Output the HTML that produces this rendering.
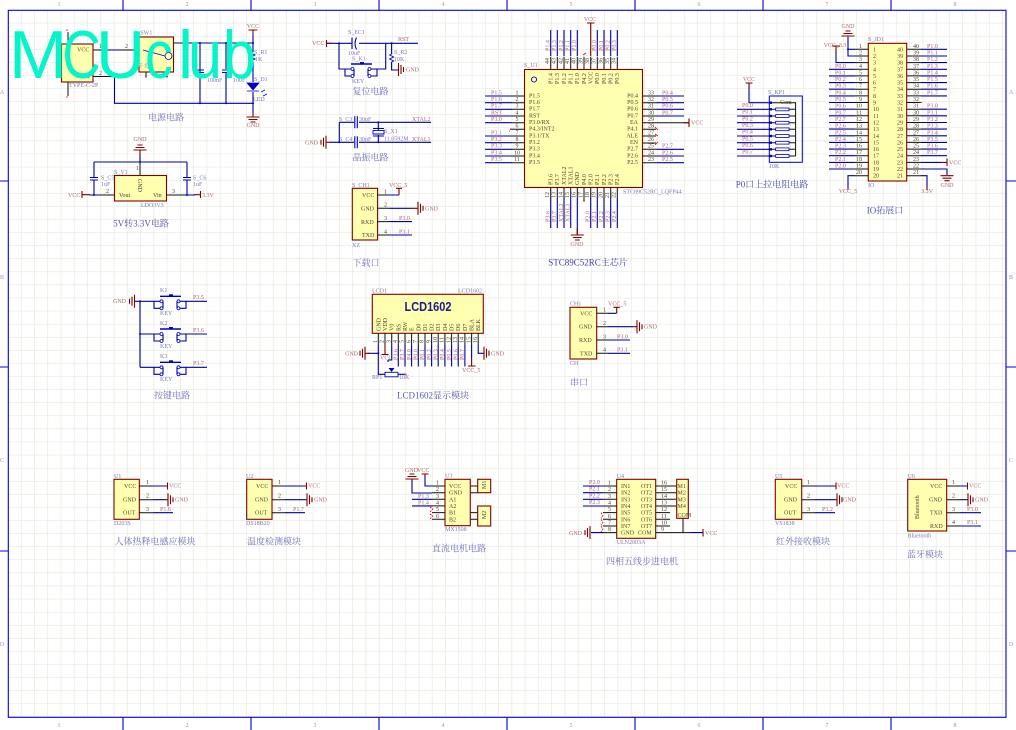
<!DOCTYPE html>
<html><head><meta charset="utf-8"><style>
html,body{margin:0;padding:0;background:#fff}
svg{display:block}
text{font-family:"Liberation Serif","Noto Serif CJK SC",serif;font-size:6px}
.w{stroke:#0000a0;stroke-width:1.1;fill:none}
.p{stroke:#111;stroke-width:1;fill:none}
.m{stroke:#800000;stroke-width:1.1;fill:none}
.b{stroke:#800000;stroke-width:1.1;fill:#ffffb0}
.n{fill:#a86a6a}
.t{fill:#554433}
.d{fill:#7a7ab8}
.h{fill:#7070b8;font-size:9px}
.k{fill:#9090e0}
.x{stroke:#e00000;stroke-width:.8;fill:none}
.j{fill:#0000a0}
.c{text-anchor:middle}
.e{text-anchor:end}
.l{font-family:"Liberation Sans",sans-serif;font-size:68px;fill:#03f5c8}
</style></head><body>
<svg width="1016" height="730" viewBox="0 0 1016 730" xmlns="http://www.w3.org/2000/svg">
<defs>
<pattern id="g" x="8.3" y="10.3" width="13.26" height="13.09" patternUnits="userSpaceOnUse"><path d="M13.26 0V13.09M0 13.09H13.26" stroke="#e6e6dc" stroke-width="1.3" fill="none"/></pattern>
<g id="gr"><path class="m" d="M0-6.500V6.500M2.500-4.500V4.500M5-2.500V2.500"/></g>
<g id="gl"><path class="m" d="M0-6.500V6.500M-2.500-4.500V4.500M-5-2.500V2.500"/></g>
<g id="gd"><path class="m" d="M-6.500 0H6.500M-4.500 2.500H4.500M-2.500 5H2.500"/></g>
<g id="key"><path class="w" d="M-6 0V7H0M0 0H-6M20 0H26V7H20"/><circle cx="1.500" cy="0" r="1.500" fill="#fff" stroke="#0000c0" stroke-width=".8"/><circle cx="1.500" cy="7" r="1.500" fill="#fff" stroke="#0000c0" stroke-width=".8"/><circle cx="18.500" cy="0" r="1.500" fill="#fff" stroke="#0000c0" stroke-width=".8"/><circle cx="18.500" cy="7" r="1.500" fill="#fff" stroke="#0000c0" stroke-width=".8"/><path d="M0-5H21" stroke="#0000c0" stroke-width="1.400"/><path d="M9-7H13V-5H9Z" fill="#0000c0"/><path class="w" d="M3 0V7M17 0V7"/></g>
<g id="cap"><path d="M-4-1H4M-4 1.500H4" stroke="#0000c0" stroke-width="1.100"/></g>
<g id="caph"><path d="M-1-6V6M1.500-6V6" stroke="#0000c0" stroke-width="1.100"/></g>
</defs>
<rect width="1016" height="730" fill="#fff"/>
<rect x="8.3" y="10.3" width="997.7" height="707" fill="url(#g)"/>
<rect x="8.3" y="10.3" width="997.7" height="707" fill="none" stroke="#0000e0" stroke-width="1.100"/>
<path stroke="#0000e0" stroke-width="1.100" fill="none" d="M123 0V10M251 0V10M379 0V10M507 0V10M635 0V10M763 0V10M891 0V10M123 717V730M251 717V730M379 717V730M507 717V730M635 717V730M763 717V730M891 717V730M0 181H8M0 367H8M0 551H8M1006 181H1016M1006 367H1016M1006 551H1016"/>
<g class="k c">
<text x="59" y="6">1</text><text x="187" y="6">2</text><text x="315" y="6">3</text><text x="443" y="6">4</text><text x="571" y="6">5</text><text x="699" y="6">6</text><text x="827" y="6">7</text><text x="955" y="6">8</text>
<text x="59" y="727">1</text><text x="187" y="727">2</text><text x="315" y="727">3</text><text x="443" y="727">4</text><text x="571" y="727">5</text><text x="699" y="727">6</text><text x="827" y="727">7</text><text x="955" y="727">8</text>
<text x="2" y="94">A</text><text x="2" y="279">B</text><text x="2" y="462">C</text><text x="2" y="646">D</text>
<text x="1011" y="94">A</text><text x="1011" y="279">B</text><text x="1011" y="462">C</text><text x="1011" y="646">D</text>
</g>

<!-- Power -->
<path class="p" d="M93 50H107M120 50H139M93 76.500H114.500M173.500 43H187M68 44V32M68 82V96M146 72V77M167 72V77M187 50V56"/>
<path class="w" d="M107 50H120M187 43H253M114.500 76.500V103.300H253M200 43V103.300M226 43V69M226 73V103.300M253 36V52M253 62V82M253 92V113"/>
<path class="m" d="M253 30V36M248.500 30H257.500M253 113V117"/>
<use href="#gd" x="253" y="117"/>
<use href="#cap" x="226" y="71"/><use href="#cap" x="200" y="71"/>
<rect x="61.500" y="44" width="31.500" height="38" class="b"/>
<rect x="139" y="37" width="34.500" height="35" class="b"/>
<path d="M143 50L165 56" stroke="#0000c0" stroke-width=".9"/><circle cx="168.500" cy="56" r="3.500" fill="none" stroke="#0000c0" stroke-width=".8"/>
<path d="M253 52l-2 1 4 2-4 2 4 2-2 1" fill="none" stroke="#0000c0" stroke-width=".9"/>
<path d="M247 83H259L253 90ZM247 91H259" fill="#0000c0" stroke="#0000c0" stroke-width=".7"/>
<path d="M261 92l4-2M263 96l4-2" stroke="#0000c0" stroke-width=".8"/>
<path class="x" d="M66 30h2M66 97h2M145 77h2M166 77h2M186 56h2"/>
<circle cx="200" cy="43" r="1" class="j"/><circle cx="226" cy="43" r="1" class="j"/><circle cx="253" cy="43" r="1" class="j"/><circle cx="200" cy="103.300" r="1" class="j"/><circle cx="226" cy="103.300" r="1" class="j"/><circle cx="253" cy="103.300" r="1" class="j"/>
<g class="t"><text x="77" y="51.500">VCC</text><text x="77" y="78">GND</text><text x="99" y="48">1</text><text x="99" y="75">2</text><text x="125" y="48">2</text></g>
<g class="d"><text x="69" y="87">TYPE-C-2P</text><text x="134" y="34.500">S_SW1</text><text x="254" y="54">S_R1</text><text x="255" y="61">1K</text><text x="254" y="81">S_D1</text><text x="253" y="101">LED</text><text x="207" y="82">100nF</text><text x="233" y="82">100F</text><text x="137" y="68">开关</text></g>
<g class="n c"><text x="253" y="28">VCC</text><text x="253" y="127">GND</text></g>
<text class="h c" x="166" y="120.500">电源电路</text>

<!-- 5V to 3.3V -->
<use href="#gd" x="140" y="150" transform="rotate(180 140 150)"/>
<path class="m" d="M140 150V155"/>
<path class="w" d="M140 155V162M94 162H187M94 162V177M94 180V195M187 162V177M187 180V195M89 195H114.500M166.500 195H195"/>
<path class="p" d="M140 162V175.500M99 195H114.500M166.500 195H184"/>
<path class="m" d="M82 191V198M82 194.700H90M194 194.700H200M200.500 191V198"/>
<use href="#cap" x="94" y="178.500"/><use href="#cap" x="187" y="178.500"/>
<circle cx="140" cy="162" r="1" class="j"/><circle cx="94" cy="195" r="1" class="j"/><circle cx="187" cy="195" r="1" class="j"/>
<rect x="114.500" y="175.500" width="52" height="25.500" class="b"/>
<g class="t"><text x="119" y="197">Vout</text><text x="153" y="197">Vin</text><text transform="rotate(90 138 179)" x="138" y="179">GND</text><text x="106" y="193">2</text><text x="172" y="193">3</text><text x="136" y="170">1</text></g>
<g class="d"><text x="114" y="174">S_V1</text><text x="101" y="179.500">S_C5</text><text x="101" y="186">1uF</text><text x="193" y="179.500">S_C6</text><text x="193" y="186">1uF</text><text x="141" y="207">LDO3V3</text></g>
<g class="n"><text x="68" y="197">VCC</text><text x="202" y="197">3.3V</text><text class="c" x="140" y="141">GND</text></g>
<text class="h c" x="141" y="226.500" style="fill:#5a5aa8">5V转3.3V电路</text>

<!-- Reset -->
<path class="w" d="M327 43.300H352M359 43.300H418M339 43.300V69H345M385.700 43.300V69H377M391.600 43.300V54M391.600 62V70H398"/>
<path class="m" d="M326.500 40V47M326.500 43.300H332"/>
<path d="M352 37.500V49M356.500 37.500c-2 4-2 8 0 12" fill="none" stroke="#0000c0" stroke-width="1.100"/>
<path d="M391.600 54l-2 1 4 2-4 2 4 2-2 1" fill="none" stroke="#0000c0" stroke-width=".9"/>
<use href="#key" x="351" y="69"/>
<use href="#gr" x="398.500" y="69.500"/>
<circle cx="339" cy="43.300" r="1" class="j"/><circle cx="391.600" cy="43.300" r="1" class="j"/>
<g class="d"><text x="348" y="34">S_EC1</text><text x="348" y="55">10uF</text><text x="352" y="60.500">S_K1</text><text x="352" y="83">KEY</text><text x="394" y="54">S_R2</text><text x="394" y="61">10K</text></g>
<g class="n"><text x="312" y="45">VCC</text><text x="398" y="41">RST</text><text x="406" y="71.500">GND</text></g>
<text class="h c" x="370.500" y="94.500">复位电路</text>

<!-- Crystal -->
<path class="w" d="M339.300 122.300H354M359 122.300H431M330 142.300H354M359 142.300H431M339.300 122.300V142.300M378.300 122.300V130M378.300 135V142.300"/>
<path class="m" d="M326 142.300H331"/>
<use href="#gl" x="326" y="142.300"/>
<use href="#caph" x="355.800" y="122.300"/><use href="#caph" x="355.800" y="142.300"/>
<path d="M373 130.600H384V134H373ZM373 128.500H384M373 136H384" fill="none" stroke="#0000c0" stroke-width=".9"/>
<circle cx="339.300" cy="142.300" r="1" class="j"/><circle cx="378.300" cy="142.300" r="1" class="j"/><circle cx="378.300" cy="122.300" r="1" class="j"/>
<g class="d"><text x="339" y="121">S_C3</text><text x="339" y="141">S_C4</text><text x="359" y="121">30pF</text><text x="359" y="141">30pF</text><text x="384" y="133">S_X1</text><text x="384" y="140.500">11.0592M</text></g>
<g class="n"><text x="305" y="144.500">GND</text><text x="412" y="121">XTAL2</text><text x="412" y="141">XTAL1</text></g>
<text class="h c" x="370.500" y="160.500">晶振电路</text>

<!-- S_CH1 -->
<rect x="352.300" y="188.300" width="25.300" height="51.700" class="b"/>
<path class="p" d="M377.600 195H389M377.600 208.300H389M377.600 221.600H389M377.600 235H389"/>
<path class="w" d="M389 195H399M389 208.300H411M389 221.600H412M389 235H412"/>
<path class="m" d="M399 195V188.500M396 188.300H402M411 208.300H418"/>
<use href="#gr" x="418" y="208.300"/>
<g class="t"><text x="362" y="197">VCC</text><text x="361" y="210.500">GND</text><text x="361" y="223.800">RXD</text><text x="362" y="237">TXD</text><text x="384" y="193.500">1</text><text x="384" y="206.500">2</text><text x="384" y="220">3</text><text x="384" y="233.500">4</text></g>
<g class="d"><text x="352" y="187">S_CH1</text><text x="352" y="247">XZ</text></g>
<g class="n"><text x="389" y="187">VCC_5</text><text x="425" y="210.500">GND</text><text x="399" y="220">P3.0</text><text x="399" y="233.500">P3.1</text></g>
<text class="h c" x="366" y="266">下载口</text>

<!-- MCU -->
<path class="w" d="M485 96H512M485 102.700H512M485 109.300H512M485 116H512M485 122.700H512M485 136H512M485 142.700H512M485 149.300H512M485 156H512M485 162.700H512M657 96H684M657 102.700H684M657 109.300H684M657 116H684M657 149.300H684M657 156H684M657 162.700H684M550.700 30V56M557.300 30V56M564 30V56M570.700 30V56M577.300 30V56M597.300 30V56M604 30V56M610.700 30V56M617.300 30V56M550.700 198V228M557.300 198V228M564 198V228M570.700 198V228M577.300 198V235M590.700 198V228M597.300 198V228M604 198V228M610.700 198V228M617.300 198V228"/>
<path class="p" d="M512 96H524M512 102.700H524M512 109.300H524M512 116H524M512 122.700H524M510 129.300H524M512 136H524M512 142.700H524M512 149.300H524M512 156H524M512 162.700H524M642 96H657M642 102.700H657M642 109.300H657M642 116H657M642 122.700H689M642 129.300H656M642 136H656M642 143H656M642 149.300H657M642 156H657M642 162.700H657M550.700 56.700V70M557.300 56.700V70M564 56.700V70M570.700 56.700V70M577.300 56.700V70M584 56.700V70M590.700 56.700V70M597.300 56.700V70M604 56.700V70M610.700 56.700V70M617.300 56.700V70M550.700 187V198M557.300 187V198M564 187V198M570.700 187V198M577.300 187V198M584 187V201M590.700 187V198M597.300 187V198M604 187V198M610.700 187V198M617.300 187V198"/>
<path class="m" d="M590.700 56V23M587 23H594.500M689 118.500V127M689 122.700H684"/>
<path class="m" d="M577.300 228V235"/><use href="#gd" x="577.300" y="235"/>
<path class="x" d="M510 129.300h2M509 131h1M583 55l3-2M583 201h2M655 127l3 3M655 134l3 2M655 145l3-3"/>
<rect x="524.500" y="69.500" width="118" height="118" class="b"/>
<circle cx="534" cy="79.500" r="2.600" fill="none" stroke="#0000e0" stroke-width=".9"/>
<g class="t">
<text x="529" y="97.500">P1.5</text><text x="529" y="104">P1.6</text><text x="529" y="110.700">P1.7</text><text x="529" y="117.500">RST</text><text x="529" y="124">P3.0/RX</text><text x="529" y="130.700">P4.3/INT2</text><text x="529" y="137.500">P3.1/TX</text><text x="529" y="144">P3.2</text><text x="529" y="150.700">P3.3</text><text x="529" y="157.500">P3.4</text><text x="529" y="164">P3.5</text>
<g class="e"><text x="638" y="97.500">P0.4</text><text x="638" y="104">P0.5</text><text x="638" y="110.700">P0.6</text><text x="638" y="117.500">P0.7</text><text x="638" y="124">EA</text><text x="638" y="130.700">P4.1</text><text x="638" y="137.500">ALE</text><text x="638" y="144">EN</text><text x="638" y="150.700">P2.7</text><text x="638" y="157.500">P2.6</text><text x="638" y="164">P2.5</text></g>
<g class="c"><text x="517" y="94.500">1</text><text x="517" y="101">2</text><text x="517" y="107.500">3</text><text x="517" y="114.500">4</text><text x="517" y="121">5</text><text x="517" y="127.500">6</text><text x="517" y="134.500">7</text><text x="517" y="141">8</text><text x="517" y="147.500">9</text><text x="517" y="154.500">10</text><text x="517" y="161">11</text>
<text x="651" y="94.500">33</text><text x="651" y="101">32</text><text x="651" y="107.500">31</text><text x="651" y="114.500">30</text><text x="651" y="121">29</text><text x="651" y="127.500">28</text><text x="651" y="134.500">27</text><text x="651" y="141">26</text><text x="651" y="147.500">25</text><text x="651" y="154.500">24</text><text x="651" y="161">23</text></g>
<text transform="rotate(-90 552.500 84)" x="552.500" y="84">P1.4</text><text transform="rotate(-90 559 84)" x="559" y="84">P1.3</text><text transform="rotate(-90 565.800 84)" x="565.800" y="84">P1.2</text><text transform="rotate(-90 572.500 84)" x="572.500" y="84">P1.1</text><text transform="rotate(-90 579 84)" x="579" y="84">P1.0</text><text transform="rotate(-90 585.800 84)" x="585.800" y="84">P4.2</text><text transform="rotate(-90 592.500 84)" x="592.500" y="84">VCC</text><text transform="rotate(-90 599 84)" x="599" y="84">P0.0</text><text transform="rotate(-90 605.800 84)" x="605.800" y="84">P0.1</text><text transform="rotate(-90 612.500 84)" x="612.500" y="84">P0.2</text><text transform="rotate(-90 619 84)" x="619" y="84">P0.3</text>
<text transform="rotate(-90 552.500 185)" x="552.500" y="185">P3.6</text><text transform="rotate(-90 559 185)" x="559" y="185">P3.7</text><text transform="rotate(-90 565.800 185)" x="565.800" y="185">XTAL2</text><text transform="rotate(-90 572.500 185)" x="572.500" y="185">XTAL1</text><text transform="rotate(-90 579 185)" x="579" y="185">GND</text><text transform="rotate(-90 585.800 185)" x="585.800" y="185">P4.0</text><text transform="rotate(-90 592.500 185)" x="592.500" y="185">P2.0</text><text transform="rotate(-90 599 185)" x="599" y="185">P2.1</text><text transform="rotate(-90 605.800 185)" x="605.800" y="185">P2.2</text><text transform="rotate(-90 612.500 185)" x="612.500" y="185">P2.3</text><text transform="rotate(-90 619 185)" x="619" y="185">P2.4</text>
<text transform="rotate(-90 549 64)" x="549" y="64">44</text><text transform="rotate(-90 555.600 64)" x="555.600" y="64">43</text><text transform="rotate(-90 562.300 64)" x="562.300" y="64">42</text><text transform="rotate(-90 569 64)" x="569" y="64">41</text><text transform="rotate(-90 575.600 64)" x="575.600" y="64">40</text><text transform="rotate(-90 582.300 64)" x="582.300" y="64">39</text><text transform="rotate(-90 589 64)" x="589" y="64">38</text><text transform="rotate(-90 595.600 64)" x="595.600" y="64">37</text><text transform="rotate(-90 602.300 64)" x="602.300" y="64">36</text><text transform="rotate(-90 609 64)" x="609" y="64">35</text><text transform="rotate(-90 615.600 64)" x="615.600" y="64">34</text>
<text transform="rotate(-90 549 198)" x="549" y="198">12</text><text transform="rotate(-90 555.600 198)" x="555.600" y="198">13</text><text transform="rotate(-90 562.300 198)" x="562.300" y="198">14</text><text transform="rotate(-90 569 198)" x="569" y="198">15</text><text transform="rotate(-90 575.600 198)" x="575.600" y="198">16</text><text transform="rotate(-90 582.300 198)" x="582.300" y="198">17</text><text transform="rotate(-90 589 198)" x="589" y="198">18</text><text transform="rotate(-90 595.600 198)" x="595.600" y="198">19</text><text transform="rotate(-90 602.300 198)" x="602.300" y="198">20</text><text transform="rotate(-90 609 198)" x="609" y="198">21</text><text transform="rotate(-90 615.600 198)" x="615.600" y="198">22</text>
</g>
<g class="n">
<text x="491" y="94.500">P1.5</text><text x="491" y="101">P1.6</text><text x="491" y="107.500">P1.7</text><text x="491" y="114.500">RST</text><text x="491" y="121">P3.0</text><text x="491" y="134.500">P3.1</text><text x="491" y="141">P3.2</text><text x="491" y="147.500">P3.3</text><text x="491" y="154.500">P3.4</text><text x="491" y="161">P3.5</text>
<text x="662" y="94.500">P0.4</text><text x="662" y="101">P0.5</text><text x="662" y="107.500">P0.6</text><text x="662" y="114.500">P0.7</text><text x="691" y="124.500">VCC</text><text x="662" y="147.500">P2.7</text><text x="662" y="154.500">P2.6</text><text x="662" y="161">P2.5</text>
<text class="c" x="590" y="21">VCC</text><text class="c" x="577" y="246">GND</text>
<text transform="rotate(-90 549.500 51)" x="549.500" y="51">P1.4</text><text transform="rotate(-90 556 51)" x="556" y="51">P1.3</text><text transform="rotate(-90 562.800 51)" x="562.800" y="51">P1.2</text><text transform="rotate(-90 569.500 51)" x="569.500" y="51">P1.1</text><text transform="rotate(-90 576 51)" x="576" y="51">P1.0</text><text transform="rotate(-90 596 51)" x="596" y="51">P0.0</text><text transform="rotate(-90 602.800 51)" x="602.800" y="51">P0.1</text><text transform="rotate(-90 609.500 51)" x="609.500" y="51">P0.2</text><text transform="rotate(-90 616 51)" x="616" y="51">P0.3</text>
<text transform="rotate(-90 549.500 222)" x="549.500" y="222">P3.6</text><text transform="rotate(-90 556 222)" x="556" y="222">P3.7</text><text transform="rotate(-90 562.800 222)" x="562.800" y="222">XTAL2</text><text transform="rotate(-90 569.500 222)" x="569.500" y="222">XTAL1</text><text transform="rotate(-90 589.500 222)" x="589.500" y="222">P2.0</text><text transform="rotate(-90 596 222)" x="596" y="222">P2.1</text><text transform="rotate(-90 602.800 222)" x="602.800" y="222">P2.2</text><text transform="rotate(-90 609.500 222)" x="609.500" y="222">P2.3</text><text transform="rotate(-90 616 222)" x="616" y="222">P2.4</text>
</g>
<g class="d"><text x="524" y="67">S_U1</text><text x="623" y="193.500">STC89C52RC_LQFP44</text></g>
<text class="h c" x="588" y="265.500" style="fill:#3c3ca4">STC89C52RC主芯片</text>

<!-- KP1 -->
<rect x="769.300" y="96" width="33" height="66.300" fill="none" stroke="#0000c0" stroke-width="1"/>
<path class="w" d="M749 83V102.700H770M737 109.300H770M737 116H770M737 122.700H770M737 129.300H770M737 136H770M737 142.700H770M737 149.300H770M737 156H770"/>
<path class="m" d="M749 83V88M745.500 83H752.500"/>
<path class="p" d="M771 102.700H795.600V156M771 109.300H776M789 109.300H795.600M771 116H776M789 116H795.600M771 122.700H776M789 122.700H795.600M771 129.300H776M789 129.300H795.600M771 136H776M789 136H795.600M771 142.700H776M789 142.700H795.600M771 149.300H776M789 149.300H795.600M771 156H776M789 156H795.600"/>
<g fill="#fff" stroke="#0000c0" stroke-width=".8"><rect x="775.700" y="108" width="13.300" height="2.800"/><rect x="775.700" y="114.600" width="13.300" height="2.800"/><rect x="775.700" y="121.300" width="13.300" height="2.800"/><rect x="775.700" y="127.900" width="13.300" height="2.800"/><rect x="775.700" y="134.600" width="13.300" height="2.800"/><rect x="775.700" y="141.300" width="13.300" height="2.800"/><rect x="775.700" y="147.900" width="13.300" height="2.800"/><rect x="775.700" y="154.600" width="13.300" height="2.800"/></g>
<g fill="#0000c0"><rect x="769" y="101.500" width="3" height="2.400"/><rect x="769" y="108.100" width="3" height="2.400"/><rect x="769" y="114.800" width="3" height="2.400"/><rect x="769" y="121.500" width="3" height="2.400"/><rect x="769" y="128.100" width="3" height="2.400"/><rect x="769" y="134.800" width="3" height="2.400"/><rect x="769" y="141.500" width="3" height="2.400"/><rect x="769" y="148.100" width="3" height="2.400"/><rect x="769" y="154.800" width="3" height="2.400"/></g>
<g class="n"><text class="c" x="749" y="81">VCC</text><text x="742" y="107">P0.0</text><text x="742" y="113.700">P0.1</text><text x="742" y="120.300">P0.2</text><text x="742" y="127">P0.3</text><text x="742" y="133.600">P0.4</text><text x="742" y="140.300">P0.5</text><text x="742" y="147">P0.6</text><text x="742" y="153.600">P0.7</text></g>
<g class="d"><text x="768" y="94">S_KP1</text><text x="769" y="168">10K</text></g>
<text class="t" x="780" y="104">Com</text>
<text class="h c" x="772" y="187.500" style="fill:#5050b0">P0口上拉电阻电路</text>

<!-- JD1 -->
<rect x="868.300" y="43.300" width="38.400" height="137.700" class="b"/>
<path class="p" d="M855 49.300H868M855 56H868M855 62.600H868M855 69.300H868M855 75.900H868M855 82.600H868M855 89.200H868M855 95.900H868M855 102.500H868M855 109.200H868M855 115.800H868M855 122.500H868M855 129.100H868M855 135.800H868M855 142.400H868M855 149.100H868M855 155.700H868M855 162.400H868M855 169H868M855 175.700H868M907 49.300H921M907 56H921M907 62.600H921M907 69.300H921M907 75.900H921M907 82.600H921M907 89.200H921M907 95.900H921M907 102.500H921M907 109.200H921M907 115.800H921M907 122.500H921M907 129.100H921M907 135.800H921M907 142.400H921M907 149.100H921M907 155.700H921M907 162.400H921M907 169H921M907 175.700H921"/>
<path class="w" d="M848 38V56H855M848 49.300H855M836 50V62.600H855M829 69.300H855M829 75.900H855M829 82.600H855M829 89.200H855M829 95.900H855M829 102.500H855M829 109.200H855M829 115.800H855M829 122.500H855M829 129.100H855M829 135.800H855M829 142.400H855M829 149.100H855M829 155.700H855M829 162.400H855M829 169H855M848 187V175.700H855M921 49.300H947M921 56H947M921 62.600H947M921 69.300H947M921 75.900H947M921 82.600H947M921 89.200H947M921 95.900H947M921 109.200H947M921 115.800H947M921 122.500H947M921 129.100H947M921 135.800H947M921 142.400H947M921 149.100H947M921 155.700H947M921 162.400H941M921 169H947V175M921 175.700H927V187"/>
<path class="m" d="M848 187V190M836 46V50M832 46H840M941 162.400H947M947 158.500V166M927 187V190"/>
<use href="#gd" x="848" y="36" transform="rotate(180 848 36)"/><path class="m" d="M848 36V38"/>
<use href="#gd" x="947" y="175.700"/>
<circle cx="848" cy="49.300" r="1" class="j"/><path class="x" d="M920 102.500h2"/>
<g class="t">
<text x="873" y="51.300">1</text><text x="873" y="58">2</text><text x="873" y="64.600">3</text><text x="873" y="71.300">4</text><text x="873" y="77.900">5</text><text x="873" y="84.600">6</text><text x="873" y="91.200">7</text><text x="873" y="97.900">8</text><text x="873" y="104.500">9</text><text x="873" y="111.200">10</text><text x="873" y="117.800">11</text><text x="873" y="124.500">12</text><text x="873" y="131.100">13</text><text x="873" y="137.800">14</text><text x="873" y="144.400">15</text><text x="873" y="151.100">16</text><text x="873" y="157.700">17</text><text x="873" y="164.400">18</text><text x="873" y="171">19</text><text x="873" y="177.700">20</text>
<text x="897" y="51.300">40</text><text x="897" y="58">39</text><text x="897" y="64.600">38</text><text x="897" y="71.300">37</text><text x="897" y="77.900">36</text><text x="897" y="84.600">35</text><text x="897" y="91.200">34</text><text x="897" y="97.900">33</text><text x="897" y="104.500">32</text><text x="897" y="111.200">31</text><text x="897" y="117.800">30</text><text x="897" y="124.500">29</text><text x="897" y="131.100">28</text><text x="897" y="137.800">27</text><text x="897" y="144.400">26</text><text x="897" y="151.100">25</text><text x="897" y="157.700">24</text><text x="897" y="164.400">23</text><text x="897" y="171">22</text><text x="897" y="177.700">21</text>
<g class="e"><text x="862" y="47.800">1</text><text x="862" y="54.500">2</text><text x="862" y="61.100">3</text><text x="862" y="67.800">4</text><text x="862" y="74.400">5</text><text x="862" y="81.100">6</text><text x="862" y="87.700">7</text><text x="862" y="94.400">8</text><text x="862" y="101">9</text><text x="862" y="107.700">10</text><text x="862" y="114.300">11</text><text x="862" y="121">12</text><text x="862" y="127.600">13</text><text x="862" y="134.300">14</text><text x="862" y="140.900">15</text><text x="862" y="147.600">16</text><text x="862" y="154.200">17</text><text x="862" y="160.900">18</text><text x="862" y="167.500">19</text><text x="862" y="174.200">20</text></g>
<text x="913" y="47.800">40</text><text x="913" y="54.500">39</text><text x="913" y="61.100">38</text><text x="913" y="67.800">37</text><text x="913" y="74.400">36</text><text x="913" y="81.100">35</text><text x="913" y="87.700">34</text><text x="913" y="94.400">33</text><text x="913" y="101">32</text><text x="913" y="107.700">31</text><text x="913" y="114.300">30</text><text x="913" y="121">29</text><text x="913" y="127.600">28</text><text x="913" y="134.300">27</text><text x="913" y="140.900">26</text><text x="913" y="147.600">25</text><text x="913" y="154.200">24</text><text x="913" y="160.900">23</text><text x="913" y="167.500">22</text><text x="913" y="174.200">21</text>
</g>
<g class="n">
<text x="835" y="67.800">P0.0</text><text x="835" y="74.400">P0.1</text><text x="835" y="81.100">P0.2</text><text x="835" y="87.700">P0.3</text><text x="835" y="94.400">P0.4</text><text x="835" y="101">P0.5</text><text x="835" y="107.700">P0.6</text><text x="835" y="114.300">P0.7</text><text x="835" y="121">P2.7</text><text x="835" y="127.600">P2.6</text><text x="835" y="134.300">P2.5</text><text x="835" y="140.900">P2.4</text><text x="835" y="147.600">P2.3</text><text x="835" y="154.200">P2.2</text><text x="835" y="160.900">P2.1</text><text x="835" y="167.500">P2.0</text>
<text x="927" y="47.800">P1.0</text><text x="927" y="54.500">P1.1</text><text x="927" y="61.100">P1.2</text><text x="927" y="67.800">P1.3</text><text x="927" y="74.400">P1.4</text><text x="927" y="81.100">P1.5</text><text x="927" y="87.700">P1.6</text><text x="927" y="94.400">P1.7</text><text x="927" y="107.700">P3.0</text><text x="927" y="114.300">P3.1</text><text x="927" y="121">P3.2</text><text x="927" y="127.600">P3.3</text><text x="927" y="134.300">P3.4</text><text x="927" y="140.900">P3.5</text><text x="927" y="147.600">P3.6</text><text x="927" y="154.200">P3.7</text>
<text x="949" y="164.500">VCC</text><text class="c" x="947" y="187">GND</text><text class="c" x="848" y="28">GND</text><text class="c" x="835" y="47">VCC_3.3</text><text class="c" x="848" y="193">VCC_5</text><text class="c" x="927" y="193">3.3V</text>
</g>
<g class="d"><text x="868" y="41">S_JD1</text><text x="868" y="187">IO</text></g>
<text class="h c" x="885" y="213.500" style="fill:#5050b0">IO拓展口</text>

<!-- Keys -->
<path class="w" d="M134 301.300H154M140 301.300V367.300M140 334H154M140 367.300H154M186 301.300H207M186 334H207M186 367.300H207"/>
<use href="#gl" x="134.500" y="301.300"/>
<use href="#key" x="160" y="301.300"/><use href="#key" x="160" y="334"/><use href="#key" x="160" y="367.300"/>
<circle cx="140" cy="301.300" r="1" class="j"/><circle cx="140" cy="334" r="1" class="j"/>
<g class="d"><text x="160" y="292">K1</text><text x="160" y="325">K2</text><text x="160" y="358">K3</text><text x="160" y="315">KEY</text><text x="160" y="348">KEY</text><text x="160" y="381">KEY</text></g>
<g class="n"><text x="113" y="303">GND</text><text x="193" y="299">P3.5</text><text x="193" y="332">P3.6</text><text x="193" y="365">P3.7</text></g>
<text class="h c" x="172" y="398.500">按键电路</text>

<!-- LCD -->
<rect x="372.300" y="294.300" width="111" height="39" class="b"/>
<text class="c" x="428" y="311" textLength="47" lengthAdjust="spacingAndGlyphs" style="font-family:'Liberation Sans',sans-serif;font-weight:bold;font-size:12.500px;fill:#1a1a90">LCD1602</text>
<path class="p" d="M378.300 333V345M385 333V345M391.700 333V345M398.300 333V345M405 333V345M411.600 333V345M418.300 333V345M425 333V345M431.600 333V345M438.200 333V345M444.900 333V345M451.600 333V345M458.200 333V345M464.900 333V345M471.600 333V345M478.200 333V345"/>
<path class="w" d="M378.300 345V374.300H385M368 353.300H378.300M391.700 345V360H388M388 360V362M398.300 345V366.500M405 345V366.500M411.600 345V366.500M418.300 345V366.500M425 345V366.500M431.600 345V366.500M438.200 345V366.500M444.900 345V366.500M451.600 345V366.500M458.200 345V366.500M464.900 345V366.500M471.600 345V358M478.200 345V353.300H484"/>
<path class="m" d="M385 345V354M381.500 354.500H388.500M471.600 358V366M468 366H475.500M365 353.300H369"/>
<use href="#gl" x="365" y="353.300"/><use href="#gr" x="484" y="353.300"/>
<rect x="385" y="372.300" width="13" height="4.500" fill="#fff" stroke="#0000c0" stroke-width=".9"/>
<path d="M388.500 368H394.500L391.500 372Z" fill="#0000c0"/><path class="w" d="M398 374.300H405"/>
<circle cx="378.300" cy="353.300" r="1" class="j"/>
<path class="x" d="M404 374h2v2"/>
<g class="t">
<text transform="rotate(-90 380.300 331)" x="380.300" y="331">GND</text><text transform="rotate(-90 387 331)" x="387" y="331">VDD</text><text transform="rotate(-90 393.700 331)" x="393.700" y="331">V0</text><text transform="rotate(-90 400.300 331)" x="400.300" y="331">RS</text><text transform="rotate(-90 407 331)" x="407" y="331">RW</text><text transform="rotate(-90 413.600 331)" x="413.600" y="331">E</text><text transform="rotate(-90 420.300 331)" x="420.300" y="331">D0</text><text transform="rotate(-90 427 331)" x="427" y="331">D1</text><text transform="rotate(-90 433.600 331)" x="433.600" y="331">D2</text><text transform="rotate(-90 440.200 331)" x="440.200" y="331">D3</text><text transform="rotate(-90 446.900 331)" x="446.900" y="331">D4</text><text transform="rotate(-90 453.600 331)" x="453.600" y="331">D5</text><text transform="rotate(-90 460.200 331)" x="460.200" y="331">D6</text><text transform="rotate(-90 466.900 331)" x="466.900" y="331">D7</text><text transform="rotate(-90 473.600 331)" x="473.600" y="331">BLA</text><text transform="rotate(-90 480.200 331)" x="480.200" y="331">BLK</text>
<text transform="rotate(-90 377 343)" x="377" y="343">1</text><text transform="rotate(-90 383.700 343)" x="383.700" y="343">2</text><text transform="rotate(-90 390.400 343)" x="390.400" y="343">3</text><text transform="rotate(-90 397 343)" x="397" y="343">4</text><text transform="rotate(-90 403.700 343)" x="403.700" y="343">5</text><text transform="rotate(-90 410.300 343)" x="410.300" y="343">6</text><text transform="rotate(-90 417 343)" x="417" y="343">7</text><text transform="rotate(-90 423.700 343)" x="423.700" y="343">8</text><text transform="rotate(-90 430.300 343)" x="430.300" y="343">9</text><text transform="rotate(-90 437 343)" x="437" y="343">10</text><text transform="rotate(-90 443.600 343)" x="443.600" y="343">11</text><text transform="rotate(-90 450.300 343)" x="450.300" y="343">12</text><text transform="rotate(-90 457 343)" x="457" y="343">13</text><text transform="rotate(-90 463.600 343)" x="463.600" y="343">14</text><text transform="rotate(-90 470.300 343)" x="470.300" y="343">15</text><text transform="rotate(-90 477 343)" x="477" y="343">16</text>
</g>
<g class="n">
<text transform="rotate(-90 397.500 360)" x="397.500" y="360">P3.6</text><text transform="rotate(-90 404 360)" x="404" y="360">P3.7</text><text transform="rotate(-90 410.800 360)" x="410.800" y="360">P4.0</text><text transform="rotate(-90 417.500 360)" x="417.500" y="360">P0.0</text><text transform="rotate(-90 424 360)" x="424" y="360">P0.1</text><text transform="rotate(-90 430.800 360)" x="430.800" y="360">P0.2</text><text transform="rotate(-90 437.400 360)" x="437.400" y="360">P0.3</text><text transform="rotate(-90 444 360)" x="444" y="360">P0.4</text><text transform="rotate(-90 450.800 360)" x="450.800" y="360">P0.5</text><text transform="rotate(-90 457.400 360)" x="457.400" y="360">P0.6</text><text transform="rotate(-90 464 360)" x="464" y="360">P0.7</text>
<text x="345" y="355.500">GND</text><text x="380" y="359.500">VCC</text><text x="491" y="355.500">GND</text><text x="462" y="372">VCC_5</text>
</g>
<g class="d"><text x="372" y="292.500">LCD1</text><text x="458" y="292.500">LCD1602</text><text x="372" y="379">RP1</text><text x="399" y="379">10K</text></g>
<text class="h c" x="433" y="398.500" style="fill:#5a5aaa">LCD1602显示模块</text>

<!-- CH1 -->
<rect x="570" y="307.300" width="26.700" height="51.700" class="b"/>
<path class="p" d="M596.700 313.300H608M596.700 326.700H608M596.700 340H608M596.700 353.300H608"/>
<path class="w" d="M608 313.300H616.700M608 326.700H633M608 340H630M608 353.300H630"/>
<path class="m" d="M616.700 313.300V307.500M613.500 307.300H620M633 326.700H637"/><use href="#gr" x="637" y="326.700"/>
<g class="t"><text x="580" y="315.300">VCC</text><text x="579" y="328.700">GND</text><text x="579" y="342">RXD</text><text x="580" y="355.300">TXD</text><text x="603" y="311.500">1</text><text x="603" y="325">2</text><text x="603" y="338.500">3</text><text x="603" y="351.500">4</text></g>
<g class="d"><text x="570" y="305.500">CH1</text><text x="570" y="365">CH</text></g>
<g class="n"><text x="608" y="305.500">VCC_5</text><text x="644" y="328.700">GND</text><text x="617" y="338.500">P3.0</text><text x="617" y="351.500">P3.1</text></g>
<text class="h c" x="579" y="385.500">串口</text>

<!-- U1 U2 U5 U6 -->
<rect x="114" y="479.300" width="25.300" height="40" class="b"/>
<rect x="246.700" y="479.300" width="25.300" height="40" class="b"/>
<rect x="775.300" y="479.300" width="26.400" height="40" class="b"/>
<rect x="907.700" y="479.300" width="39" height="51.700" class="b"/>
<path class="p" d="M139.300 486H153M139.300 499.700H153M139.300 512.700H153M272 486H285M272 499.700H285M272 512.700H285M801.700 486H815M801.700 499.700H815M801.700 512.700H815M946.700 486H960M946.700 499.700H960M946.700 512.700H960M946.700 526H960"/>
<path class="w" d="M153 486H165M153 499.700H166M153 512.700H173M285 486H304M285 499.700H305M285 512.700H305M815 486H834M815 499.700H835M815 512.700H835M960 486H966M960 499.700H966M960 512.700H981M960 526H981"/>
<path class="m" d="M165 486H167.300M167.500 482.500V489.500M166 499.700H168M304 486H306M306.500 482.500V489.500M305 499.700H307M834 486H835.600M836 482.500V489.500M835 499.700H837M966 486H967M967.500 482.500V489.500M966 499.700H968"/>
<use href="#gr" x="168" y="499.700"/><use href="#gr" x="307" y="499.700"/><use href="#gr" x="837" y="499.700"/><use href="#gr" x="968" y="499.700"/>
<g class="t">
<text x="124" y="488">VCC</text><text x="123" y="501.700">GND</text><text x="123" y="514.700">OUT</text><text x="146" y="484">1</text><text x="146" y="497.500">2</text><text x="146" y="511">3</text>
<text x="256" y="488">VCC</text><text x="255" y="501.700">GND</text><text x="255" y="514.700">OUT</text><text x="278" y="484">1</text><text x="278" y="497.500">2</text><text x="278" y="511">3</text>
<text x="785" y="488">VCC</text><text x="784" y="501.700">GND</text><text x="784" y="514.700">OUT</text><text x="807" y="484">1</text><text x="807" y="497.500">2</text><text x="807" y="511">3</text>
<text x="930" y="488">VCC</text><text x="929" y="501.700">GND</text><text x="930" y="514.700">TXD</text><text x="930" y="528">RXD</text><text x="952" y="484">1</text><text x="952" y="497.500">2</text><text x="952" y="511">3</text><text x="952" y="524">4</text>
<text transform="rotate(-90 919 519)" x="919" y="519">Bluetooth</text>
</g>
<g class="n">
<text x="169" y="487.500">VCC</text><text x="175" y="501.500">GND</text><text x="160" y="511">P1.6</text>
<text x="308" y="487.500">VCC</text><text x="314" y="501.500">GND</text><text x="293" y="511">P1.7</text>
<text x="837" y="487.500">VCC</text><text x="843" y="501.500">GND</text><text x="822" y="511">P3.2</text>
<text x="969" y="487.500">VCC</text><text x="975" y="501.500">GND</text><text x="967" y="511">P3.0</text><text x="967" y="524">P3.1</text>
</g>
<g class="d"><text x="114" y="478">U1</text><text x="114" y="525">D203S</text><text x="246" y="478">U2</text><text x="246" y="525">DS18B20</text><text x="775" y="478">U5</text><text x="775" y="525">VS1838</text><text x="907.500" y="478">U6</text><text x="907.500" y="537.500">Bluetooth</text></g>
<text class="h c" x="155" y="544.500">人体热释电感应模块</text><text class="h c" x="274" y="544.500">温度检测模块</text><text class="h c" x="803" y="544.500">红外接收模块</text><text class="h c" x="925" y="557.500">蓝牙模块</text>

<!-- U3 -->
<path class="p" d="M432 486H445M432 492.700H445M432 499.300H445M432 505.900H445M432 512.600H445M432 519.300H445M470.300 486H477.700M470.300 492.700H477.700M470.300 512.600H477.700M470.300 519.300H477.700"/>
<path class="w" d="M425 475V486H432M412 480V493H432M412 499.300H432M412 505.900H432"/>
<path class="m" d="M425 474.500V477M421.500 474H428.500M412 479V481"/>
<use href="#gd" x="412" y="479" transform="rotate(180 412 479)"/>
<path class="x" d="M430 512l3-3-3-2M430 519l3-3-3-2" stroke-dasharray="2 1"/>
<rect x="445" y="479.300" width="25.300" height="46.400" class="b"/>
<rect x="477.700" y="479.300" width="13" height="13.400" class="b"/>
<rect x="477.700" y="506" width="13" height="20" class="b"/>
<g class="t"><text x="449" y="488">VCC</text><text x="449" y="494.700">GND</text><text x="449" y="501.300">A1</text><text x="449" y="507.900">A2</text><text x="449" y="514.600">B1</text><text x="449" y="521.300">B2</text>
<text x="436" y="484.500">1</text><text x="436" y="491">2</text><text x="436" y="497.800">3</text><text x="436" y="504.400">4</text><text x="436" y="511">5</text><text x="436" y="517.800">6</text>
<text transform="rotate(-90 486 489)" x="486" y="489">M1</text><text transform="rotate(-90 486 519)" x="486" y="519">M2</text></g>
<g class="n"><text x="405" y="472">GND</text><text x="417" y="472">VCC</text><text x="418" y="497.800">P1.3</text><text x="418" y="504.400">P1.4</text></g>
<g class="d"><text x="445" y="477.500">U3</text><text x="445" y="531">MX1508</text></g>
<text class="h c" x="459" y="551.500">直流电机电路</text>

<!-- U4 -->
<path class="p" d="M603 486H617M603 492.700H617M603 499.300H617M603 506H617M603 512.600H617M603 519.300H617M603 526H617M603 532.600H617M655.700 486H676.700M655.700 492.700H676.700M655.700 499.300H676.700M655.700 506H676.700M655.700 512.600H670M655.700 519.300H670M655.700 526H670M655.700 532.600H690M683 518.300V532.600"/>
<path class="w" d="M583 486H603M583 492.700H603M583 499.300H603M583 506H603M591 532.600H603M690 532.600H703"/>
<path class="m" d="M703 529V536.500"/>
<use href="#gl" x="590" y="532.600"/>
<path class="x" d="M601 512.600l2 3-2 3M601 519.300l2 3-2 3M601 526l2 3-2 3" stroke-dasharray="2 1"/>
<rect x="616.700" y="479.300" width="39" height="59" class="b"/>
<rect x="676.700" y="479.300" width="11.600" height="39" class="b"/>
<g class="t"><text x="621" y="488">IN1</text><text x="621" y="494.700">IN2</text><text x="621" y="501.300">IN3</text><text x="621" y="508">IN4</text><text x="621" y="514.600">IN5</text><text x="621" y="521.300">IN6</text><text x="621" y="528">IN7</text><text x="621" y="534.600">GND</text>
<text x="641" y="488">OT1</text><text x="641" y="494.700">OT2</text><text x="641" y="501.300">OT3</text><text x="641" y="508">OT4</text><text x="641" y="514.600">OT5</text><text x="641" y="521.300">OT6</text><text x="641" y="528">OT7</text><text x="638" y="534.600">COM</text>
<text x="677.500" y="488">M1</text><text x="677.500" y="494.700">M2</text><text x="677.500" y="501.300">M3</text><text x="677.500" y="508">M4</text><text x="677.500" y="517">COM</text>
<text x="608" y="484.500">1</text><text x="608" y="491">2</text><text x="608" y="497.800">3</text><text x="608" y="504.400">4</text><text x="608" y="511">5</text><text x="608" y="517.800">6</text><text x="608" y="524.400">7</text><text x="608" y="531">8</text>
<text x="661" y="484.500">16</text><text x="661" y="491">15</text><text x="661" y="497.800">14</text><text x="661" y="504.400">13</text><text x="661" y="511">12</text><text x="661" y="517.800">11</text><text x="661" y="524.400">10</text><text x="661" y="531">9</text></g>
<g class="n"><text x="589" y="484">P2.0</text><text x="589" y="490.700">P2.1</text><text x="589" y="497.300">P2.2</text><text x="589" y="504">P2.3</text><text x="569" y="534.800">GND</text><text x="705" y="534.800">VCC</text></g>
<g class="d"><text x="616.700" y="478">U4</text><text x="616.700" y="544">ULN2003A</text></g>
<text class="h c" x="642" y="564.500">四相五线步进电机</text>

<!-- Logo -->
<text class="l" transform="translate(9 78) scale(1.030 1)">M</text>
<text class="l" transform="translate(62.400 78) scale(.780 1)">C</text>
<text class="l" transform="translate(96 78)">U</text>
<text class="l" transform="translate(145 78) scale(.820 1)">c</text>
<text class="l" transform="translate(178 78)">l</text>
<text class="l" transform="translate(188 78) scale(.900 1)">u</text>
<text class="l" transform="translate(223 78) scale(.870 1)">b</text>
</svg>
</body></html>
